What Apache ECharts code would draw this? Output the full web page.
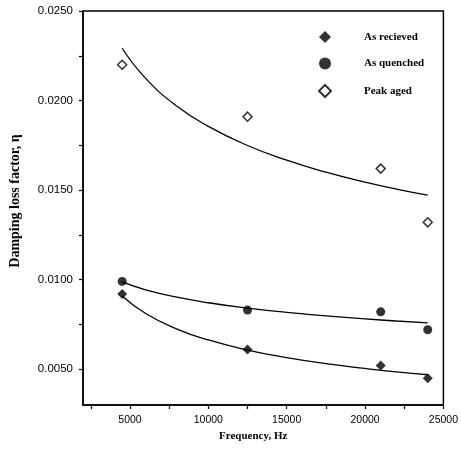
<!DOCTYPE html>
<html>
<head>
<meta charset="utf-8">
<script src="https://cdn.jsdelivr.net/npm/echarts@6/dist/echarts.min.js"></script>
<style>
html,body{margin:0;padding:0;background:#fff;}
#chart{width:461px;height:451px;}
</style>
</head>
<body>
<div id="chart"></div>
<script>
// Measured points
var frequency = [4500, 12500, 21000, 24000];
var asReceived = [0.0092, 0.0061, 0.0052, 0.0045];
var asQuenched = [0.0099, 0.0083, 0.0082, 0.0072];
var peakAged = [0.0220, 0.0191, 0.0162, 0.0132];

// Fitted curves
var fitFrequency = [4500, 6000, 8000, 10000, 12500, 15000, 17500, 20000, 22000, 24000];
var fitReceived = [0.00909, 0.00811, 0.00724, 0.00663, 0.00607, 0.00565, 0.00531, 0.00504, 0.00485, 0.00469];
var fitQuenched = [0.00987, 0.00943, 0.00902, 0.00871, 0.00841, 0.00817, 0.00798, 0.00781, 0.00769, 0.00759];
var fitPeakAged = [0.02292, 0.02124, 0.01968, 0.01856, 0.01749, 0.01667, 0.01600, 0.01545, 0.01506, 0.01472];

// Tick labels
var xTickLabels = [5000, 10000, 15000, 20000, 25000];
var xTickMarks = [2500, 5000, 7500, 10000, 12500, 15000, 17500, 20000, 22500, 25000];
var yTickLabels = [0.005, 0.010, 0.015, 0.020, 0.025];
var yTickMarks = [0.005, 0.0075, 0.010, 0.0125, 0.015, 0.0175, 0.020, 0.0225, 0.025];

var seriesNames = ['As recieved', 'As quenched', 'Peak aged'];

function pairs(xs, ys) {
  return xs.map(function (x, i) { return [x, ys[i]]; });
}

var serif = '"Liberation Serif", "Times New Roman", serif';
var sans = '"Liberation Sans", Arial, sans-serif';

var chart = echarts.init(document.getElementById('chart'), null, {renderer: 'canvas'});

var fitLine = function (name, ys) {
  return {
    name: name,
    type: 'line',
    data: pairs(fitFrequency, ys),
    smooth: true,
    showSymbol: false,
    symbol: 'none',
    silent: true,
    lineStyle: {color: '#000', width: 1.3},
    z: 1
  };
};

chart.setOption({
  animation: false,
  backgroundColor: '#fff',
  grid: {
    left: 83, right: 15, top: 11, bottom: 46,
    show: true, borderColor: '#000', borderWidth: 1.5
  },
  legend: {
    data: seriesNames,
    orient: 'vertical',
    left: 313,
    top: 26,
    itemWidth: 12,
    itemHeight: 12,
    itemGap: 14.5,
    textStyle: {
      fontFamily: serif,
      fontWeight: 'bold',
      fontSize: 11,
      color: '#000',
      lineHeight: 10,
      padding: [0, 0, 0, 28]
    }
  },
  xAxis: {
    type: 'value',
    min: 2000,
    max: 25000,
    name: 'Frequency, Hz',
    nameLocation: 'middle',
    nameGap: 24,
    nameTextStyle: {
      fontFamily: serif, fontWeight: 'bold', fontSize: 11, color: '#000',
      padding: [0, 20, 0, 0]
    },
    axisLine: {onZero: false, lineStyle: {color: '#000', width: 1.5}},
    axisTick: {show: true, inside: false, length: 4, customValues: xTickMarks, lineStyle: {color: '#000', width: 1.2}},
    axisLabel: {
      customValues: xTickLabels,
      margin: 10,
      fontFamily: sans, fontSize: 10.5, color: '#000',
      formatter: function (v) { return String(Math.round(v)); }
    },
    splitLine: {show: false}
  },
  yAxis: {
    type: 'value',
    min: 0.003,
    max: 0.025,
    name: 'Damping loss factor, \u03b7',
    nameLocation: 'middle',
    nameGap: 61,
    nameRotate: 90,
    nameTextStyle: {
      fontFamily: serif, fontWeight: 'bold', fontSize: 14, color: '#000',
      padding: [0, 0, 0, 14]
    },
    axisLine: {onZero: false, lineStyle: {color: '#000', width: 1.5}},
    axisTick: {show: true, inside: false, length: 4, customValues: yTickMarks, lineStyle: {color: '#000', width: 1.2}},
    axisLabel: {
      customValues: yTickLabels,
      margin: 10,
      fontFamily: sans, fontSize: 11.5, color: '#000',
      formatter: function (v) { return v.toFixed(4); }
    },
    splitLine: {show: false}
  },
  series: [
    fitLine('fitReceived', fitReceived),
    fitLine('fitQuenched', fitQuenched),
    fitLine('fitPeakAged', fitPeakAged),
    {
      name: seriesNames[0],
      type: 'scatter',
      symbol: 'diamond',
      symbolSize: 10,
      data: pairs(frequency, asReceived),
      itemStyle: {color: '#000'},
      z: 3
    },
    {
      name: seriesNames[1],
      type: 'scatter',
      symbol: 'circle',
      symbolSize: 9,
      data: pairs(frequency, asQuenched),
      itemStyle: {color: '#000'},
      z: 3
    },
    {
      name: seriesNames[2],
      type: 'scatter',
      symbol: 'diamond',
      symbolSize: 9,
      data: pairs(frequency, peakAged),
      itemStyle: {color: '#fff', borderColor: '#000', borderWidth: 1.5},
      z: 3
    }
  ]
});
</script>
</body>
</html>
